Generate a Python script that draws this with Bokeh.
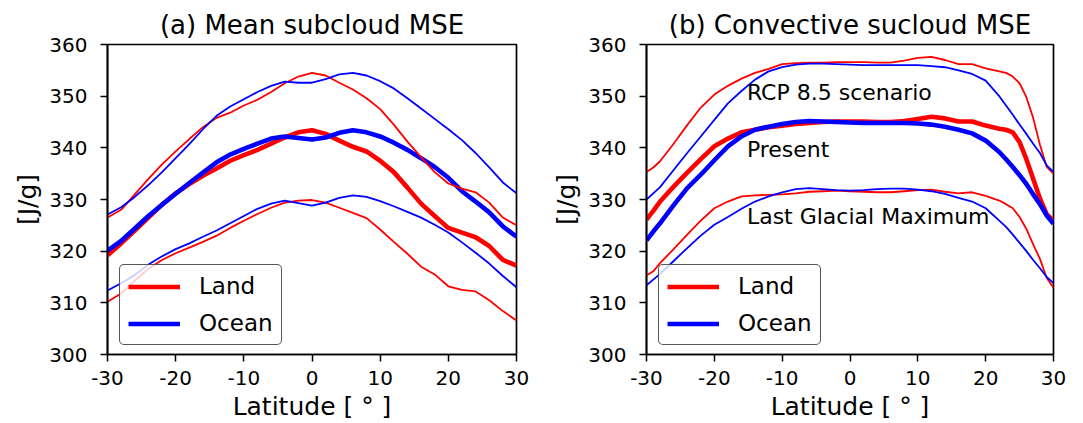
from bokeh.plotting import figure
from bokeh.layouts import row
from bokeh.models import Legend, LegendItem, Label, FixedTicker, Range1d
from bokeh.embed import file_html
from bokeh.resources import INLINE

FONT = "DejaVu Sans"
RED = "#ff0000"
BLUE = "#0000ff"

# ---------------- data: panel (a) Mean subcloud MSE ----------------
lat_a = [-30, -28, -26, -24, -22, -20, -18, -16, -14, -12, -10, -8, -6, -4, -2, 0,
         2, 4, 6, 8, 10, 12, 14, 16, 18, 20, 22, 24, 26, 28, 30]
land_rcp_a = [326.5, 328.0, 331.0, 334.0, 336.8, 339.3, 341.7, 344.0, 345.8, 346.8, 348.2,
              349.3, 350.8, 352.5, 353.8, 354.5, 354.0, 352.6, 351.3, 349.6, 347.5, 344.5,
              341.2, 338.2, 335.3, 333.1, 332.1, 331.4, 329.4, 326.5, 325.0]
ocean_rcp_a = [327.1, 328.5, 330.5, 332.8, 335.3, 338.0, 340.7, 343.6, 346.2, 348.0, 349.4,
               350.8, 352.0, 352.8, 352.6, 352.6, 353.3, 354.2, 354.5, 354.0, 352.9, 351.5,
               349.6, 347.6, 345.6, 343.6, 341.5, 339.0, 336.2, 333.3, 331.2]
land_pres_a = [319.2, 321.5, 324.0, 326.5, 329.0, 331.2, 333.0, 334.6, 336.0, 337.5, 338.6,
               339.6, 340.8, 342.0, 343.0, 343.4, 342.7, 341.4, 340.2, 339.3, 337.5, 335.3,
               332.3, 329.2, 326.8, 324.5, 323.6, 322.7, 321.0, 318.3, 317.2]
ocean_pres_a = [320.1, 322.0, 324.4, 326.8, 329.0, 331.1, 333.2, 335.2, 337.2, 338.7, 339.8,
                340.8, 341.8, 342.2, 341.9, 341.6, 342.0, 342.9, 343.4, 343.0, 342.2, 341.0,
                339.6, 338.0, 336.3, 334.2, 331.6, 329.6, 327.5, 324.8, 322.8]
land_lgm_a = [310.2, 311.8, 314.3, 316.6, 318.3, 319.6, 320.7, 321.8, 323.0, 324.5, 325.9,
              327.2, 328.4, 329.4, 329.8, 329.9, 329.4, 328.4, 327.4, 326.4, 324.2, 321.8,
              319.5, 317.0, 315.5, 313.2, 312.5, 312.2, 310.5, 308.4, 306.6]
ocean_lgm_a = [312.4, 313.8, 315.4, 317.4, 319.0, 320.4, 321.5, 322.8, 324.0, 325.4, 326.8,
               328.2, 329.2, 329.8, 329.3, 328.8, 329.4, 330.3, 330.8, 330.5, 329.7, 328.7,
               327.6, 326.5, 325.1, 323.6, 321.7, 319.7, 317.6, 315.2, 313.0]

# ---------------- data: panel (b) Convective subcloud MSE ----------------
lat_b = [-30, -29, -28, -26, -24, -22, -20, -18, -16, -14, -12, -10, -8, -6, -4, -2, 0,
         2, 4, 6, 8, 10, 12, 14, 16, 18, 20, 22, 23, 24, 25, 26, 27, 28, 29, 30]
land_rcp_b = [335.3, 336.2, 337.4, 340.8, 344.4, 347.8, 350.3, 352.0, 353.4, 354.5, 355.3,
              356.2, 356.4, 356.5, 356.5, 356.6, 356.6, 356.6, 356.5, 356.5, 356.9, 357.4,
              357.6, 357.0, 356.2, 356.2, 355.4, 354.8, 354.5, 353.8, 352.5, 349.8, 345.8,
              340.6, 336.3, 335.0]
ocean_rcp_b = [330.0, 331.2, 332.4, 335.7, 339.0, 342.2, 345.4, 348.6, 351.0, 353.2, 354.8,
               355.6, 356.1, 356.3, 356.3, 356.2, 356.1, 356.0, 356.0, 356.0, 356.0, 356.0,
               355.8, 355.6, 355.0, 354.3, 353.0, 350.0, 348.2, 346.4, 344.5, 342.7, 340.8,
               339.0, 336.6, 335.3]
land_pres_b = [326.1, 327.8, 329.6, 332.5, 335.2, 337.8, 340.3, 341.8, 343.0, 343.5, 344.0,
               344.3, 344.6, 344.8, 345.0, 345.1, 345.1, 345.1, 345.0, 345.0, 345.2, 345.6,
               346.0, 345.7, 345.1, 345.1, 344.3, 343.7, 343.5, 343.0, 341.1, 337.8, 334.0,
               330.2, 327.1, 325.9]
ocean_pres_b = [322.1, 323.8, 325.4, 328.9, 332.2, 334.8, 337.6, 340.3, 342.2, 343.5, 344.1,
                344.6, 345.0, 345.2, 345.1, 345.0, 344.9, 344.8, 344.8, 344.8, 344.8, 344.7,
                344.5, 344.1, 343.5, 342.8, 341.4, 339.2, 337.8, 336.3, 334.7, 333.0, 331.0,
                329.1, 326.9, 325.3]
land_lgm_b = [315.3, 316.1, 317.7, 320.4, 323.2, 325.9, 328.3, 329.6, 330.6, 330.8, 330.9,
              331.0, 331.2, 331.5, 331.6, 331.7, 331.6, 331.5, 331.4, 331.4, 331.6, 331.8,
              331.9, 331.5, 331.2, 331.4, 330.7, 329.8, 329.1, 328.3, 326.6, 324.3, 321.3,
              318.5, 314.8, 312.9]
ocean_lgm_b = [313.4, 314.5, 315.6, 318.1, 320.6, 323.0, 325.1, 326.6, 328.2, 329.6, 330.6,
               331.4, 332.0, 332.2, 332.0, 331.8, 331.7, 331.8, 332.0, 332.1, 332.1, 331.9,
               331.6, 331.1, 330.3, 329.6, 328.3, 325.9, 324.7, 323.2, 321.6, 320.0, 318.3,
               316.7, 315.0, 313.8]

# ---------------- texts and ticks ----------------
titles = ["(a) Mean subcloud MSE", "(b) Convective sucloud MSE"]
x_label = "Latitude [ \u00b0 ]"
y_label = "[J/g]"
legend_labels = ["Land", "Ocean"]
x_ticks = [-30, -20, -10, 0, 10, 20, 30]
x_tick_labels = ["-30", "-20", "-10", "0", "10", "20", "30"]
y_ticks = [300, 310, 320, 330, 340, 350, 360]
y_tick_labels = ["300", "310", "320", "330", "340", "350", "360"]
scenario_texts = ["RCP 8.5 scenario", "Present", "Last Glacial Maximum"]
scenario_x = [-15.2, -15.2, -15.2]
scenario_y = [350.8, 339.7, 326.8]

THIN = 1.8
THICK = 4.6


def make_panel(title, lat, series, border_left, frame_w, border_right):
    p = figure(frame_width=frame_w, frame_height=310,
               x_range=Range1d(-30, 30), y_range=Range1d(300, 360),
               output_backend="svg", toolbar_location=None,
               min_border_left=border_left, min_border_right=border_right,
               min_border_top=44, min_border_bottom=40, title=title)
    p.title.text_font = FONT
    p.title.text_font_size = "26px"
    p.title.text_font_style = "normal"
    p.title.align = "center"
    p.title.text_color = "black"

    p.xgrid.visible = False
    p.ygrid.visible = False
    p.background_fill_color = "white"
    p.border_fill_color = "white"
    p.outline_line_color = "black"
    p.outline_line_width = 1.7
    p.outline_line_alpha = 1.0

    p.xaxis.ticker = FixedTicker(ticks=x_ticks)
    p.xaxis.major_label_overrides = dict(zip(x_ticks, x_tick_labels))
    p.yaxis.ticker = FixedTicker(ticks=y_ticks)
    p.yaxis.major_label_overrides = dict(zip(y_ticks, y_tick_labels))
    for ax in (p.xaxis[0], p.yaxis[0]):
        ax.axis_line_width = 1.7
        ax.axis_line_color = "black"
        ax.major_tick_in = 0
        ax.major_tick_out = 7
        ax.major_tick_line_width = 1.5
        ax.minor_tick_line_color = None
        ax.major_label_text_font = FONT
        ax.major_label_text_font_size = "20px"
        ax.major_label_text_color = "black"
        ax.axis_label_text_font = FONT
        ax.axis_label_text_font_size = "25px"
        ax.axis_label_text_font_style = "normal"
        ax.axis_label_text_color = "black"
    p.xaxis.axis_label = x_label
    p.yaxis.axis_label = y_label
    p.xaxis.major_label_standoff = 9
    p.xaxis.axis_label_standoff = 4
    p.yaxis.major_label_standoff = 13
    p.yaxis.axis_label_standoff = 4

    land_lgm, ocean_lgm, land_pres, ocean_pres, land_rcp, ocean_rcp = series
    p.line(lat, land_lgm, line_color=RED, line_width=THIN)
    p.line(lat, ocean_lgm, line_color=BLUE, line_width=THIN)
    r_land = p.line(lat, land_pres, line_color=RED, line_width=THICK)
    r_ocean = p.line(lat, ocean_pres, line_color=BLUE, line_width=THICK)
    p.line(lat, land_rcp, line_color=RED, line_width=THIN)
    p.line(lat, ocean_rcp, line_color=BLUE, line_width=THIN)

    legend = Legend(items=[LegendItem(label=legend_labels[0], renderers=[r_land]),
                           LegendItem(label=legend_labels[1], renderers=[r_ocean])],
                    location=(12, 9))
    legend.label_text_font = FONT
    legend.label_text_font_size = "23px"
    legend.label_text_color = "black"
    legend.glyph_width = 52
    legend.glyph_height = 25
    legend.label_height = 25
    legend.label_standoff = 19
    legend.padding = 8
    legend.spacing = 11
    legend.margin = 0
    legend.border_line_color = "#444444"
    legend.border_line_width = 1.5
    legend.border_line_alpha = 0.9
    legend.background_fill_color = "white"
    legend.background_fill_alpha = 0.8
    if "border_radius" in Legend.properties():
        legend.border_radius = 5
    p.add_layout(legend)
    return p


p1 = make_panel(titles[0], lat_a,
                [land_lgm_a, ocean_lgm_a, land_pres_a, ocean_pres_a, land_rcp_a, ocean_rcp_a],
                107, 409, 24)
p2 = make_panel(titles[1], lat_b,
                [land_lgm_b, ocean_lgm_b, land_pres_b, ocean_pres_b, land_rcp_b, ocean_rcp_b],
                106, 407, 22)

for txt, tx, ty in zip(scenario_texts, scenario_x, scenario_y):
    p2.add_layout(Label(x=tx, y=ty, text=txt, text_font=FONT, text_font_size="22px",
                        text_color="black", text_baseline="alphabetic", text_align="left"))

layout = row(p1, p2)
open("out.html", "w").write(file_html(layout, INLINE))
